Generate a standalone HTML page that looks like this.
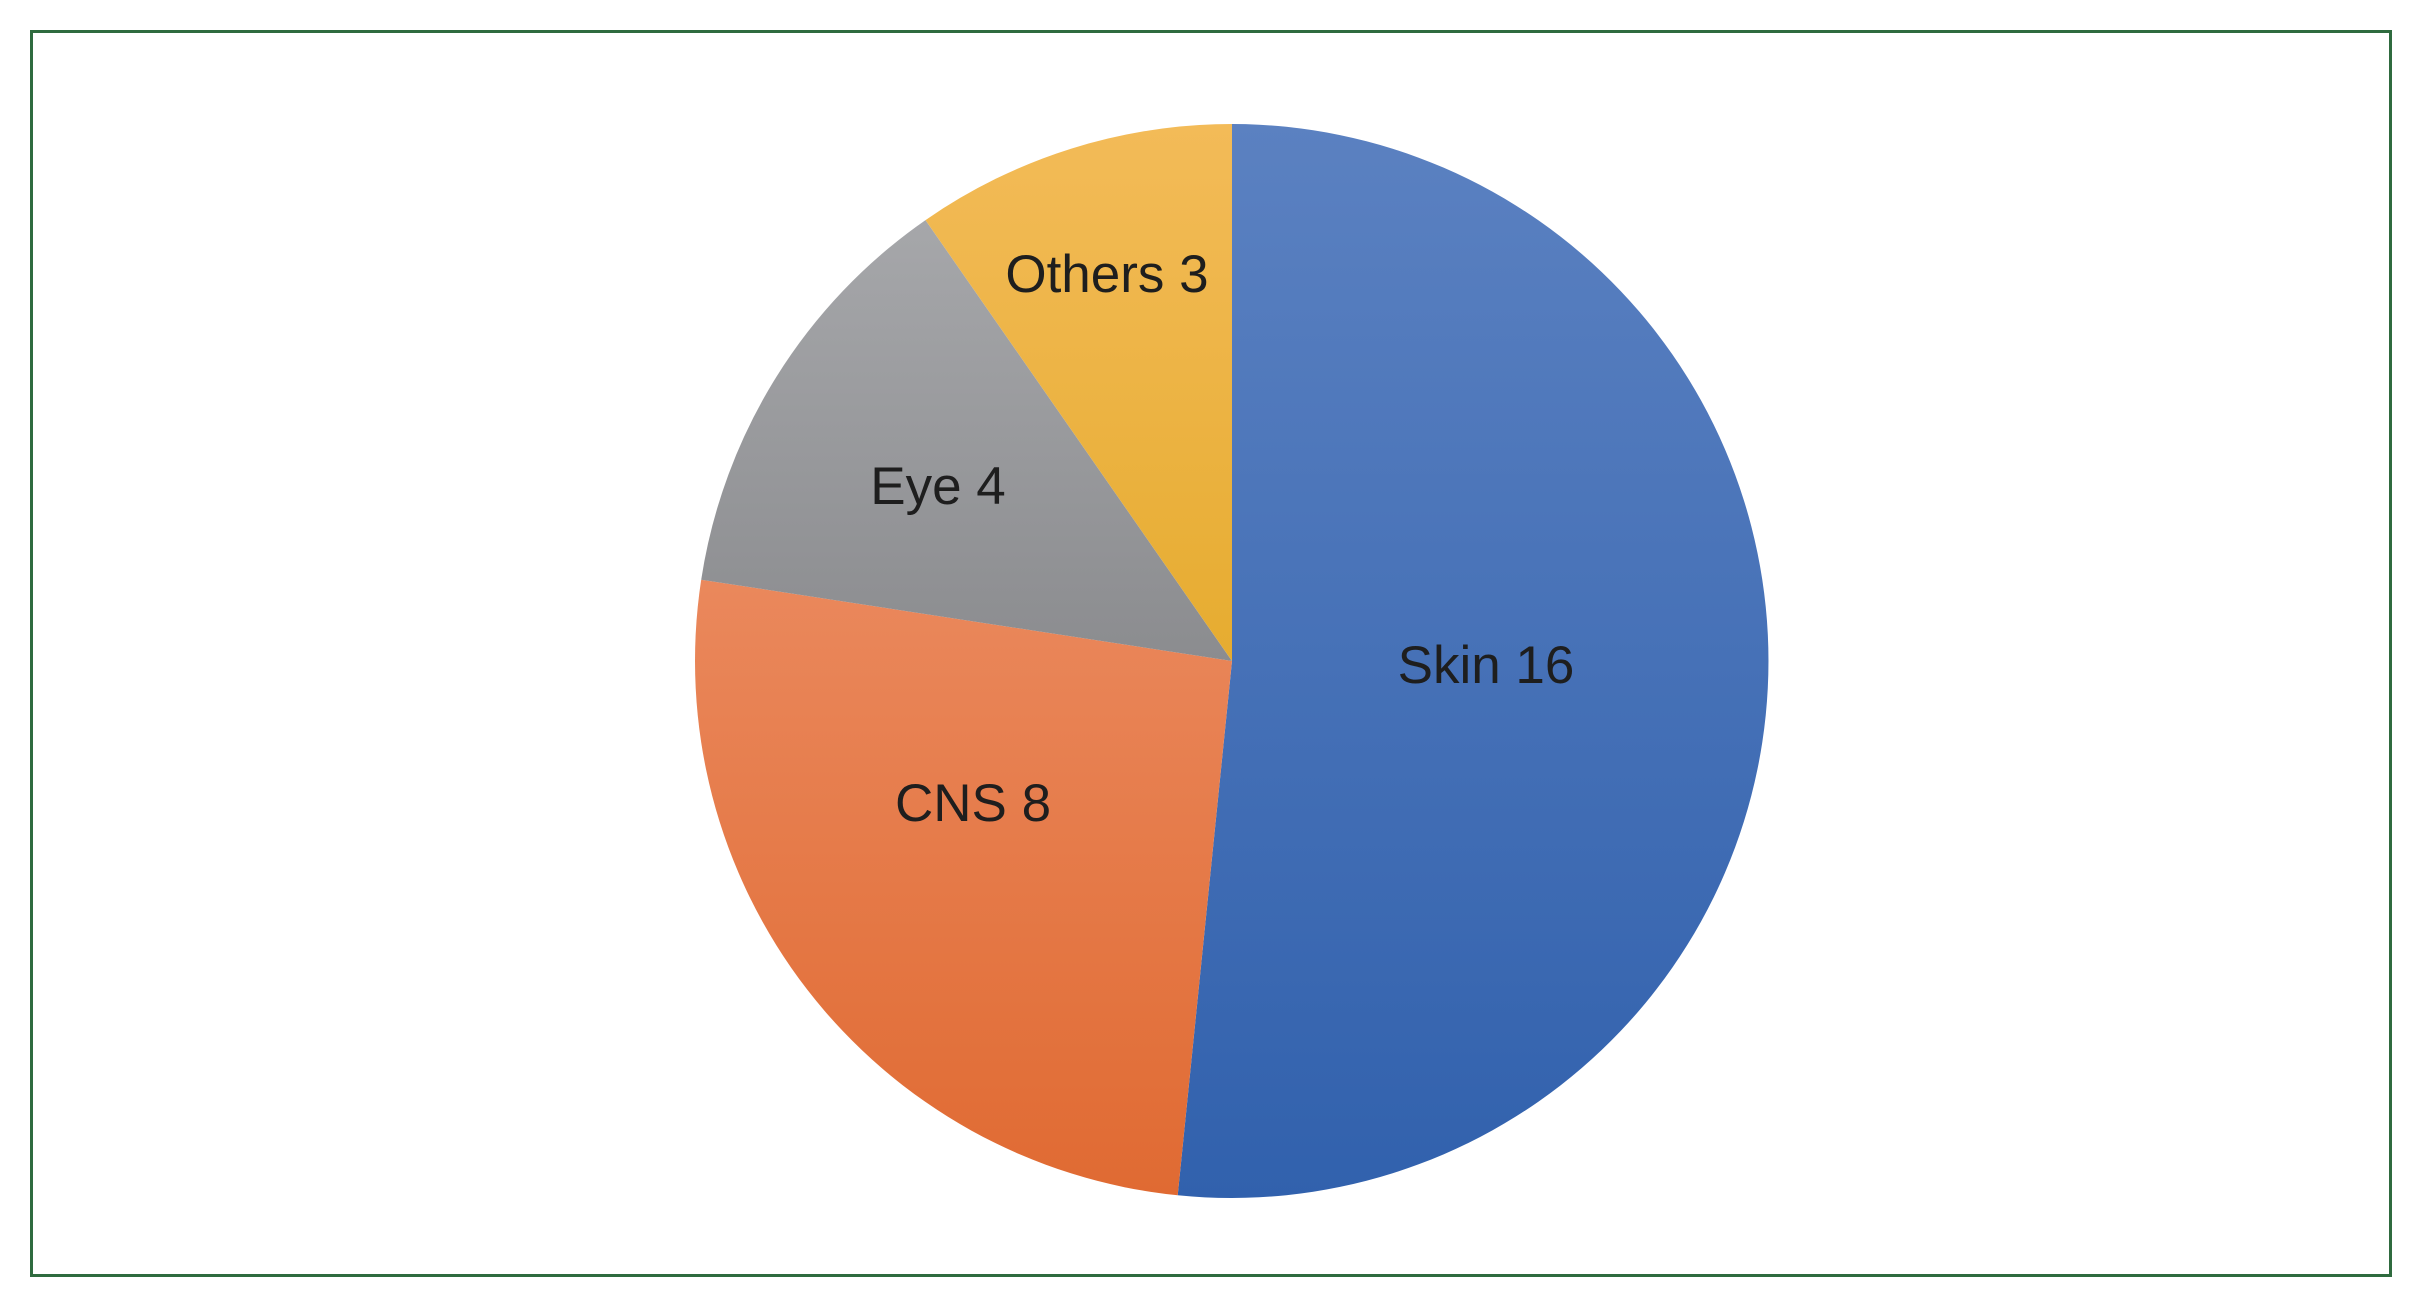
<!DOCTYPE html>
<html><head><style>html,body{margin:0;padding:0;background:#fff;}</style></head>
<body>
<svg width="2423" height="1308" xmlns="http://www.w3.org/2000/svg">
<defs>
<linearGradient id="gb" gradientUnits="userSpaceOnUse" x1="0" y1="124" x2="0" y2="1198"><stop offset="0" stop-color="#5b81c1"/><stop offset="1" stop-color="#3161ad"/></linearGradient>
<linearGradient id="go" gradientUnits="userSpaceOnUse" x1="0" y1="580" x2="0" y2="1198"><stop offset="0" stop-color="#ea885c"/><stop offset="1" stop-color="#e06a32"/></linearGradient>
<linearGradient id="gg" gradientUnits="userSpaceOnUse" x1="0" y1="220" x2="0" y2="661"><stop offset="0" stop-color="#a6a7aa"/><stop offset="1" stop-color="#8b8c8f"/></linearGradient>
<linearGradient id="gy" gradientUnits="userSpaceOnUse" x1="0" y1="124" x2="0" y2="661"><stop offset="0" stop-color="#f3bb58"/><stop offset="1" stop-color="#e6ac30"/></linearGradient>
</defs>
<rect x="31.5" y="31.5" width="2359" height="1244" fill="none" stroke="#2f6b3f" stroke-width="3"/>
<path d="M1232,661 L1232,124 A537,537 0 1 1 1177.7,1195.3 Z" fill="url(#gb)"/>
<path d="M1232,661 L1177.7,1195.3 A537,537 0 0 1 701.2,579.7 Z" fill="url(#go)"/>
<path d="M1232,661 L701.2,579.7 A537,537 0 0 1 925.5,220.1 Z" fill="url(#gg)"/>
<path d="M1232,661 L925.5,220.1 A537,537 0 0 1 1232,124 Z" fill="url(#gy)"/>
<g font-family="Liberation Sans, sans-serif" font-size="53" fill="#1e1e1e" text-anchor="middle">
<text x="1486" y="683">Skin 16</text>
<text x="1107" y="292">Others 3</text>
<text x="938" y="504">Eye 4</text>
<text x="973" y="821">CNS 8</text>
</g>
</svg>
</body></html>
